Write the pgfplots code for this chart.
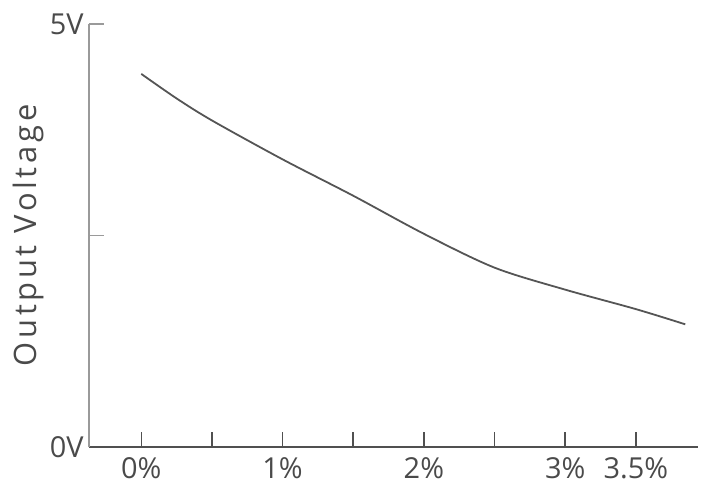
\documentclass[border=0pt]{standalone}
\usepackage{fontspec}
\setmainfont{Open Sans}
\usepackage{pgfplots}
\pgfplotsset{compat=1.18}
\definecolor{curvegray}{HTML}{555555}
\definecolor{axisdark}{HTML}{505050}
\definecolor{axislight}{HTML}{9A9A9A}
\definecolor{textgray}{HTML}{4A4A4A}

\begin{document}
\begin{tikzpicture}
\begin{axis}[
    scale only axis,
    width=609bp, height=423bp,
    xmin=-0.37, xmax=3.94,
    ymin=0, ymax=5,
    axis x line=bottom,
    axis y line=left,
    x axis line style={-, draw=axisdark, line width=1.6bp},
    y axis line style={-, draw=axislight, line width=1.6bp},
    tick align=inside,
    major tick length=15bp,
    every major x tick/.append style={draw=axisdark, line width=1.5bp},
    every major y tick/.append style={draw=axislight, line width=1.6bp},
    xtick={0,0.5,1,1.5,2,2.5,3,3.5},
    xticklabels={0\%,,1\%,,2\%,,3\%,3.5\%},
    ytick={0,2.5,5},
    yticklabels={0V,,5V},
    tick label style={font=\fontsize{29}{32}\selectfont, text=textgray},
    xticklabel style={yshift=-7bp},
    yticklabel style={xshift=-2bp},
    ylabel={\addfontfeature{LetterSpace=12}Output Voltage},
    ylabel style={at={(axis description cs:-0.1,0.5)}, anchor=center,
        font=\fontsize{31}{34}\selectfont, text=textgray},
    clip=false,
]
\addplot[curvegray, line width=1.8bp, smooth] coordinates {
    (0,4.41) (0.25,4.12) (0.5,3.86) (1,3.40) (1.5,2.97) (2,2.52)
    (2.5,2.12) (3,1.86) (3.5,1.63) (3.85,1.45)
};
\end{axis}
\path (-89bp,-46bp) rectangle (635bp,447bp);
\end{tikzpicture}
\end{document}
